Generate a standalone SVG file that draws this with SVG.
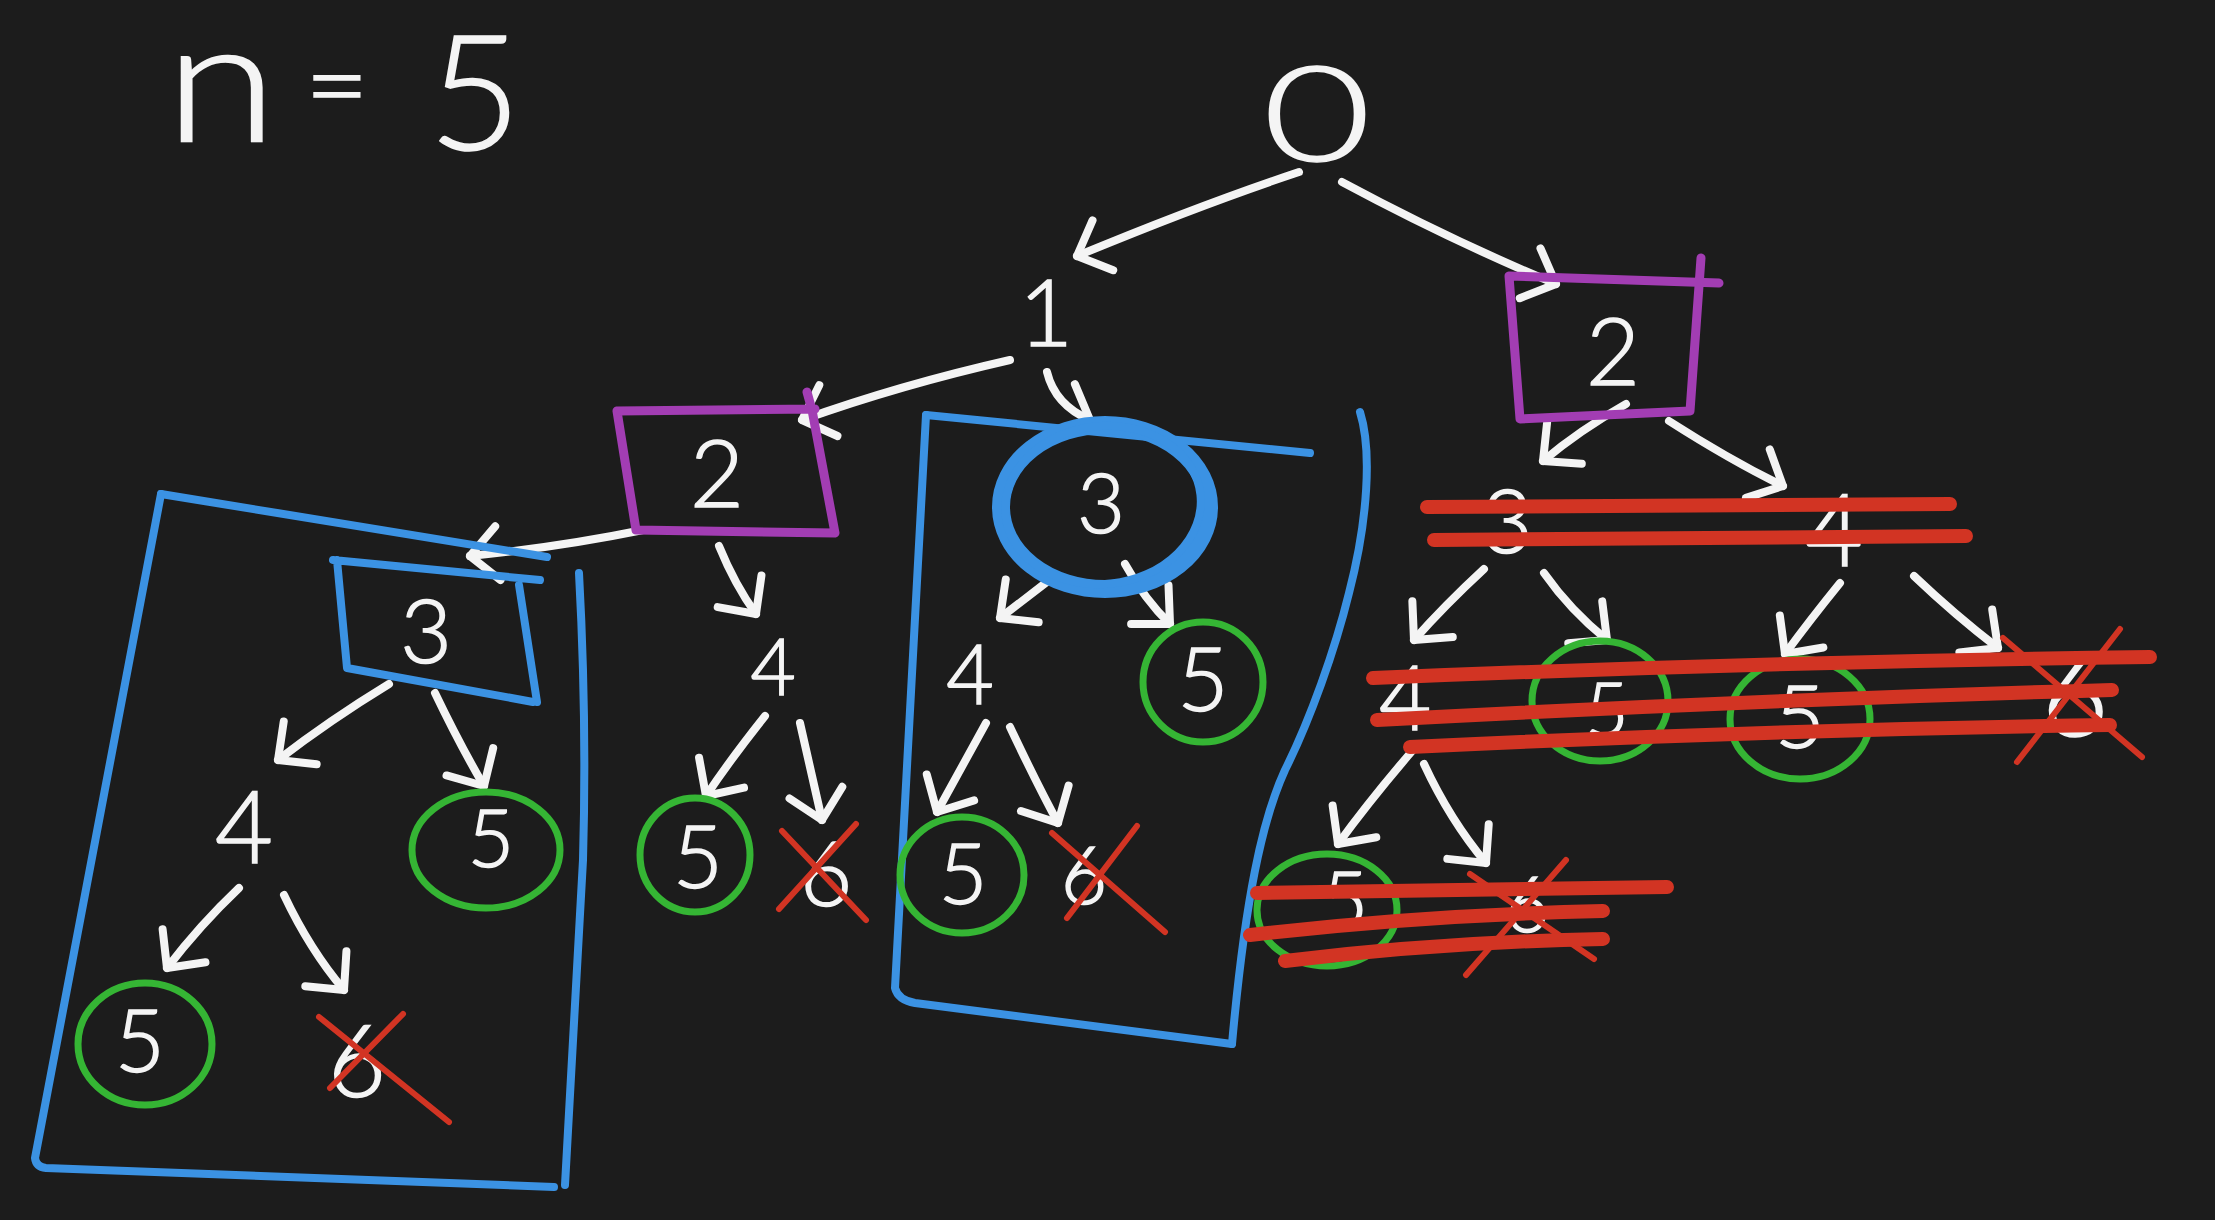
<svg xmlns="http://www.w3.org/2000/svg" width="2215" height="1220" viewBox="0 0 2215 1220">
<style>
.bg{fill:#1c1c1c}
.t{fill:#f4f4f4;stroke:#f4f4f4;stroke-width:1.6;font-family:"Lato","Noto Sans","Liberation Sans",sans-serif;font-weight:300;text-anchor:middle}
.e{fill:none;stroke:#f4f4f4;stroke-width:8;stroke-linecap:round;stroke-linejoin:round}
.pb{fill:none;stroke:#a23db3;stroke-width:9;stroke-linecap:round;stroke-linejoin:round}
.bb{fill:none;stroke:#3b92e3;stroke-width:8;stroke-linecap:round;stroke-linejoin:round}
.gc{fill:none;stroke:#35b534;stroke-width:7}
.rx{fill:none;stroke:#d23423;stroke-width:6;stroke-linecap:round}
.rs{fill:none;stroke:#d23423;stroke-width:14;stroke-linecap:round}
</style>
<defs>
<marker id="ah" markerUnits="userSpaceOnUse" markerWidth="80" markerHeight="80" refX="0" refY="0" viewBox="-40 -40 80 80" orient="auto" overflow="visible">
<path d="M -28 -27 L 0 0 L -28 27" fill="none" stroke="#f4f4f4" stroke-width="8" stroke-linecap="round" stroke-linejoin="round"/>
</marker>
</defs>
<rect class="bg" x="0" y="0" width="2215" height="1220"/>

<g id="title">
<text class="t" font-size="170" transform="translate(221,142) scale(1.2,1)">n</text>
<text class="t" x="337" y="124" font-size="110">=</text>
<text class="t" x="475" y="150" font-size="160">5</text>
</g>

<g id="connectors">
<path class="e" marker-end="url(#ah)" d="M 1299 172 Q 1200 205 1077 256"/>
<path class="e" marker-end="url(#ah)" d="M 1342 182 Q 1450 240 1556 284"/>
<path class="e" marker-end="url(#ah)" d="M 1010 360 Q 900 385 802 420"/>
<path class="e" marker-end="url(#ah)" d="M 1047 372 Q 1055 405 1090 420"/>
<path class="e" marker-end="url(#ah)" d="M 643 530 Q 560 547 470 556"/>
<path class="e" marker-end="url(#ah)" d="M 719 546 Q 735 585 756 614"/>
<path class="e" marker-end="url(#ah)" d="M 765 716 Q 730 760 706 796"/>
<path class="e" marker-end="url(#ah)" d="M 800 723 Q 812 775 822 820"/>
<path class="e" marker-end="url(#ah)" d="M 389 684 Q 330 720 278 760"/>
<path class="e" marker-end="url(#ah)" d="M 435 693 Q 460 745 484 786"/>
<path class="e" marker-end="url(#ah)" d="M 239 888 Q 200 925 167 968"/>
<path class="e" marker-end="url(#ah)" d="M 284 895 Q 310 950 344 990"/>
<path class="e" marker-end="url(#ah)" d="M 1052 578 L 1000 618"/>
<path class="e" marker-end="url(#ah)" d="M 1125 564 Q 1145 600 1170 624"/>
<path class="e" marker-end="url(#ah)" d="M 986 723 Q 960 770 937 812"/>
<path class="e" marker-end="url(#ah)" d="M 1010 727 Q 1035 780 1058 823"/>
<path class="e" marker-end="url(#ah)" d="M 1626 404 Q 1580 430 1543 461"/>
<path class="e" marker-end="url(#ah)" d="M 1669 421 Q 1730 460 1783 486"/>
<path class="e" marker-end="url(#ah)" d="M 1484 569 Q 1445 605 1414 640"/>
<path class="e" marker-end="url(#ah)" d="M 1544 573 Q 1570 610 1607 640"/>
<path class="e" marker-end="url(#ah)" d="M 1840 583 Q 1810 620 1785 654"/>
<path class="e" marker-end="url(#ah)" d="M 1914 576 Q 1955 615 1998 648"/>
<path class="e" marker-end="url(#ah)" d="M 1413 750 Q 1370 800 1338 844"/>
<path class="e" marker-end="url(#ah)" d="M 1424 764 Q 1450 820 1486 863"/>
</g>

<g id="frame-left">
<path class="bb" d="M 161 494 L 547 557"/>
<path class="bb" d="M 161 494 L 35 1158 Q 36 1167 46 1168 L 554 1187"/>
<path class="bb" d="M 579 573 Q 587 720 583 860 L 565 1185"/>
</g>
<g id="frame-middle">
<path class="bb" d="M 926 415 L 1310 453"/>
<path class="bb" d="M 926 415 L 895 988 Q 898 1000 915 1003 L 1232 1044"/>
<path class="bb" d="M 1360 412 C 1372 450 1368 520 1349 593 C 1335 650 1310 720 1285 770 C 1262 820 1245 900 1232 1044"/>
</g>

<g id="n-root"><text class="t" font-size="133" transform="translate(1317,161) scale(1.4,1)">0</text></g>
<g id="n-1"><text class="t" x="1046" y="346" font-size="93">1</text></g>

<g id="n-2-left">
<path class="pb" d="M 807 392 L 812 410 L 835 533 L 636 530 L 617 411 L 815 409"/>
<text class="t" x="717" y="507" font-size="93">2</text>
</g>
<g id="n-2-right">
<path class="pb" d="M 1701 258 L 1690 411 L 1520 419 L 1509 276 L 1719 283"/>
<text class="t" x="1613" y="385" font-size="93">2</text>
</g>

<g id="n-3-boxed">
<path class="bb" d="M 333 560 L 540 580 M 337 560 L 347 668 L 533 702 M 519 585 L 537 702"/>
<text class="t" x="426" y="663" font-size="89">3</text>
</g>
<g id="n-4-left"><text class="t" x="244" y="863" font-size="100">4</text></g>
<g id="n-5-a"><ellipse class="gc" cx="486" cy="850" rx="74" ry="58"/><text class="t" x="491" y="867" font-size="80">5</text></g>
<g id="n-5-b"><ellipse class="gc" cx="145" cy="1044" rx="67" ry="61"/><text class="t" x="140" y="1072" font-size="86">5</text></g>
<g id="n-6-a"><text class="t" x="357" y="1097" font-size="100">6</text><path class="rx" d="M 319 1017 L 449 1122 M 403 1014 L 330 1088"/></g>

<g id="n-4-mid"><text class="t" x="773" y="695" font-size="78">4</text></g>
<g id="n-5-c"><ellipse class="gc" cx="695" cy="855" rx="55" ry="57"/><text class="t" x="698" y="888" font-size="86">5</text></g>
<g id="n-6-b"><text class="t" x="826" y="906" font-size="90">6</text><path class="rx" d="M 782 831 L 866 920 M 856 824 L 779 909"/></g>

<g id="n-3-circled">
<ellipse cx="1105" cy="507" rx="104" ry="82" fill="none" stroke="#3b92e3" stroke-width="18"/>
<ellipse cx="1103" cy="505" rx="98" ry="79" fill="none" stroke="#3b92e3" stroke-width="8" transform="rotate(-6 1103 505)"/>
<text class="t" x="1101" y="533" font-size="82">3</text>
</g>
<g id="n-4-mb"><text class="t" x="970" y="704" font-size="82">4</text></g>
<g id="n-5-d"><ellipse class="gc" cx="1203" cy="682" rx="60" ry="60"/><text class="t" x="1203" y="711" font-size="88">5</text></g>
<g id="n-5-e"><ellipse class="gc" cx="962" cy="875" rx="62" ry="58"/><text class="t" x="963" y="904" font-size="84">5</text></g>
<g id="n-6-c"><text class="t" x="1084" y="904" font-size="80">6</text><path class="rx" d="M 1052 833 L 1165 932 M 1137 826 L 1067 918"/></g>

<g id="n-3-right"><text class="t" x="1507" y="553" font-size="88">3</text></g>
<g id="n-4-right"><text class="t" x="1834" y="566" font-size="100">4</text></g>
<g id="n-4-r3"><text class="t" x="1405" y="730" font-size="90">4</text></g>
<g id="n-5-f"><ellipse class="gc" cx="1600" cy="701" rx="68" ry="60"/><text class="t" x="1607" y="736" font-size="74">5</text></g>
<g id="n-5-g"><ellipse class="gc" cx="1800" cy="719" rx="70" ry="60"/><text class="t" x="1800" y="748" font-size="86">5</text></g>
<g id="n-6-d"><text class="t" x="2075" y="736" font-size="115">6</text><path class="rx" d="M 2003 638 L 2142 757 M 2120 629 L 2017 762"/></g>
<g id="n-5-h"><ellipse class="gc" cx="1327" cy="910" rx="70" ry="56"/><text class="t" x="1345" y="929" font-size="80">5</text></g>
<g id="n-6-e"><text class="t" x="1527" y="932" font-size="76">6</text><path class="rx" d="M 1470 874 L 1594 959 M 1566 860 L 1466 975"/></g>

<g id="strikes">
<path class="rs" d="M 1427 507 L 1950 504"/>
<path class="rs" d="M 1434 540 L 1966 536"/>
<path class="rs" d="M 1373 678 Q 1760 662 2150 657"/>
<path class="rs" d="M 1377 720 Q 1750 700 2112 690"/>
<path class="rs" d="M 1410 747 Q 1760 730 2110 725"/>
<path class="rs" d="M 1257 893 L 1667 887"/>
<path class="rs" d="M 1250 935 Q 1420 915 1603 911"/>
<path class="rs" d="M 1285 961 Q 1440 942 1603 939"/>
</g>
</svg>
